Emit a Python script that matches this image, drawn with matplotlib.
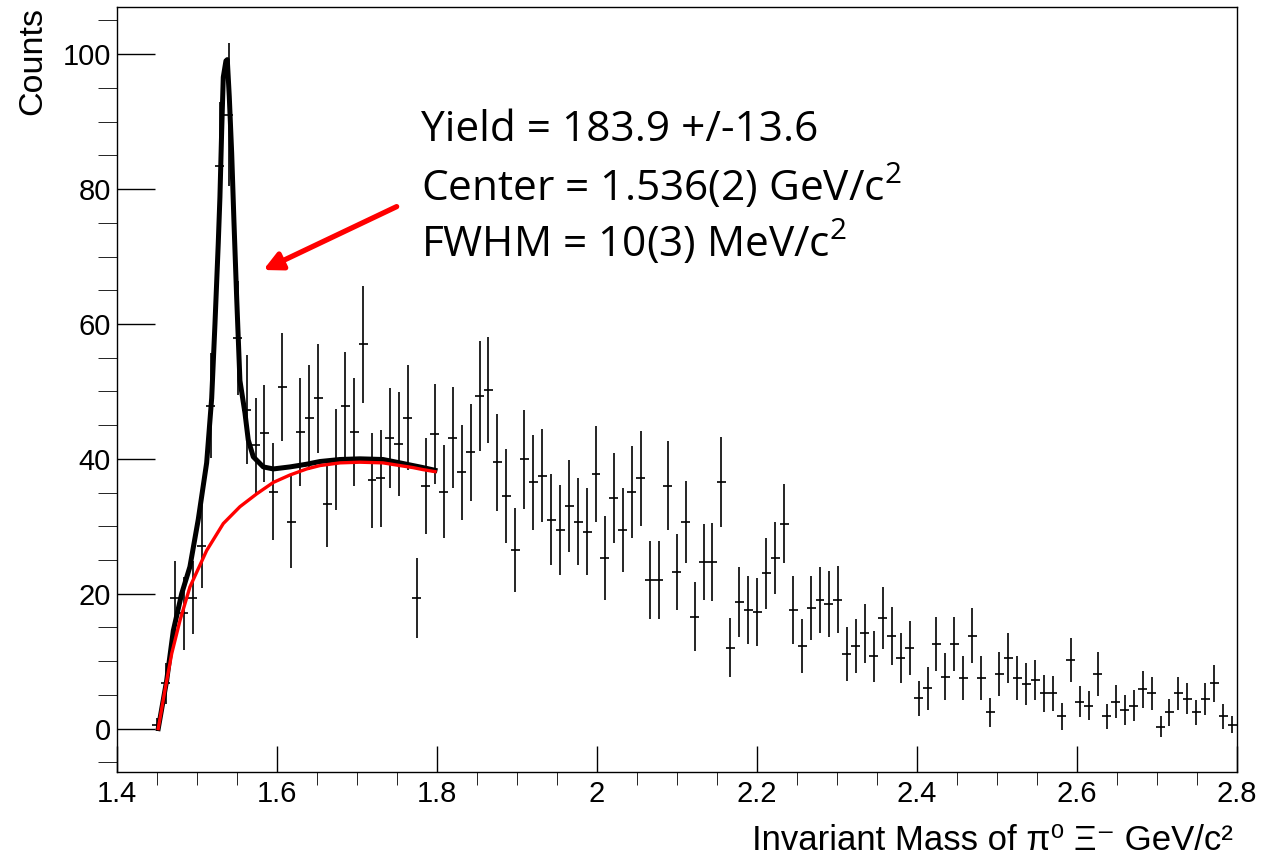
import numpy as np
import matplotlib
matplotlib.use("Agg")
import matplotlib.pyplot as plt
from matplotlib.ticker import MultipleLocator

plt.rcParams['font.family'] = ['Liberation Sans', 'DejaVu Sans']
plt.rcParams['mathtext.fontset'] = 'custom'
plt.rcParams['mathtext.rm'] = 'Open Sans'

# histogram binning (121 filled bins of width 0.0112, last edge at 2.8)
x_lo = 1.4448
bin_w = 0.0112
n_bins = 121

counts = [0.6, 6.7, 19.4, 17.1, 19.4, 27.0, 47.9, 83.4, 91.0, 57.9,
          47.3, 42.0, 43.8, 35.1, 50.6, 30.6, 44.0, 46.1, 49.0, 33.3,
          39.9, 47.9, 44.0, 57.0, 36.8, 37.1, 43.1, 42.2, 46.1, 19.4,
          36.0, 43.7, 35.1, 43.1, 38.0, 41.0, 49.3, 50.2, 39.5, 34.5,
          26.5, 39.9, 36.5, 37.5, 31.0, 29.4, 33.0, 30.7, 29.2, 37.8,
          25.3, 34.2, 29.4, 35.1, 37.1, 22.0, 22.0, 36.0, 23.2, 30.6,
          16.6, 24.7, 24.7, 36.6, 12.0, 18.8, 17.6, 17.3, 23.0, 25.3,
          30.4, 17.6, 12.2, 17.9, 19.1, 18.5, 19.1, 11.1, 12.3, 14.1,
          10.7, 16.4, 13.8, 10.5, 12.0, 4.5, 6.0, 12.5, 7.7, 12.5,
          7.5, 13.8, 7.5, 2.4, 8.1, 10.5, 7.5, 6.6, 7.2, 5.2,
          5.2, 1.8, 10.2, 4.0, 3.4, 8.1, 1.8, 4.0, 2.8, 3.4,
          5.8, 5.2, 0.3, 2.4, 5.2, 4.4, 2.4, 4.4, 6.7, 1.8,
          0.6]

errors = [1.0, 3.0, 5.4, 5.4, 5.4, 6.2, 7.8, 9.5, 10.6, 8.5,
          8.1, 7.0, 7.2, 7.2, 8.0, 6.8, 8.0, 7.8, 8.1, 6.4,
          7.5, 7.9, 8.0, 8.7, 7.1, 7.2, 7.4, 7.7, 7.8, 5.9,
          7.1, 7.4, 6.9, 7.5, 7.0, 7.2, 8.1, 7.9, 7.2, 7.0,
          6.2, 7.4, 7.1, 6.9, 6.7, 6.7, 6.8, 6.5, 6.4, 7.1,
          6.2, 6.7, 6.2, 6.8, 7.0, 5.8, 5.8, 6.6, 5.6, 6.1,
          5.1, 5.6, 5.8, 6.7, 4.4, 5.2, 5.0, 5.0, 5.3, 5.4,
          5.9, 5.0, 4.0, 4.7, 4.9, 4.9, 5.0, 4.0, 4.0, 4.4,
          3.8, 4.6, 4.3, 3.7, 4.0, 2.6, 3.2, 4.0, 3.5, 4.0,
          3.2, 4.1, 3.2, 2.2, 3.2, 3.7, 3.3, 3.1, 3.0, 2.8,
          2.6, 2.0, 3.3, 2.3, 2.2, 3.2, 1.9, 2.5, 2.2, 2.3,
          2.7, 2.5, 1.5, 2.0, 2.5, 2.3, 1.9, 2.4, 2.8, 1.9,
          1.2]

# fit: signal + background (black) and background only (red)
fit_x = [1.452, 1.4625, 1.4708, 1.4813, 1.4916, 1.502, 1.5125, 1.5188, 1.5229,
         1.527, 1.5291, 1.5313, 1.5333, 1.5366, 1.5383, 1.5408, 1.5438, 1.5466,
         1.55, 1.5541, 1.5604, 1.5645, 1.5708, 1.5833, 1.5958, 1.6166, 1.6375,
         1.6541, 1.6791, 1.7041, 1.7329, 1.7541, 1.7704, 1.7829, 1.7979]
fit_y = [0.0, 7.1, 14.5, 20.0, 24.0, 31.0, 39.4, 49.0, 60.0,
         71.9, 78.8, 88.7, 96.6, 99.0, 99.2, 93.7, 85.3, 75.3,
         64.0, 51.6, 46.8, 42.8, 40.3, 38.8, 38.5, 38.8, 39.2,
         39.6, 39.9, 40.0, 39.9, 39.4, 39.0, 38.7, 38.3]

bkg_x = [1.452, 1.4604, 1.4688, 1.4791, 1.4916, 1.5125, 1.5333, 1.5541, 1.575,
         1.5958, 1.6166, 1.6375, 1.6541, 1.6791, 1.7041, 1.7329, 1.7541,
         1.7704, 1.7829, 1.7979]
bkg_y = [0.0, 5.7, 11.1, 16.0, 21.0, 26.4, 30.4, 32.9, 34.8,
         36.5, 37.6, 38.5, 39.0, 39.4, 39.5, 39.4, 39.0,
         38.7, 38.4, 38.1]

fit_lines = ["Yield = 183.9 +/-13.6",
             "Center = 1.536(2) GeV/c$^{2}$",
             "FWHM = 10(3) MeV/c$^{2}$"]

centers = x_lo + bin_w * (np.arange(n_bins) + 0.5)

fig = plt.figure(figsize=(12.61, 8.55), dpi=100)
ax = fig.add_axes([0.0925, 0.0974, 0.8882, 0.8944])

ax.errorbar(centers, counts, yerr=errors, xerr=bin_w / 2, fmt='none',
            ecolor='black', elinewidth=1.2, capsize=0, zorder=2)
ax.plot(fit_x, fit_y, color='black', lw=3.6, zorder=3)
ax.plot(bkg_x, bkg_y, color='#ff0000', lw=2.4, zorder=4)

ax.set_xlim(1.4, 2.8)
ax.set_ylim(-6.4, 107)

ax.xaxis.set_major_locator(MultipleLocator(0.2))
ax.xaxis.set_minor_locator(MultipleLocator(0.05))
ax.yaxis.set_major_locator(MultipleLocator(20))
ax.yaxis.set_minor_locator(MultipleLocator(5))
ax.xaxis.set_major_formatter(plt.FuncFormatter(lambda v, p: f"{v:g}"))

ax.tick_params(direction='in', width=1.0, labelsize=21, top=False, right=False)
ax.tick_params(axis='x', which='major', length=18.4, pad=6)
ax.tick_params(axis='x', which='minor', length=9.2)
ax.tick_params(axis='y', which='major', length=27.4, pad=4)
ax.tick_params(axis='y', which='minor', length=13.7)
for s in ax.spines.values():
    s.set_linewidth(1.0)

ax.set_xlabel("Invariant Mass of \u03c0\u2070 \u039e\u207b GeV/c\u00b2", fontsize=25, loc='right')
ax.xaxis.set_label_coords(0.997, -0.068)
ax.set_ylabel("Counts", fontsize=24.5, loc='top')
ax.yaxis.set_label_coords(-0.061, 1.0)

for txt, yv in zip(fit_lines, [87.2, 78.3, 69.9]):
    ax.text(1.781, yv, txt, fontsize=30.5, family=['Open Sans', 'DejaVu Sans'],
            va='baseline', ha='left')

ax.annotate("", xy=(1.5833, 68.0), xytext=(1.75, 77.4),
            arrowprops=dict(arrowstyle='-|>,head_length=1.1,head_width=0.55',
                            color='#ff0000', lw=3.8, shrinkA=0, shrinkB=0))

fig.savefig("out.png", dpi=100)
